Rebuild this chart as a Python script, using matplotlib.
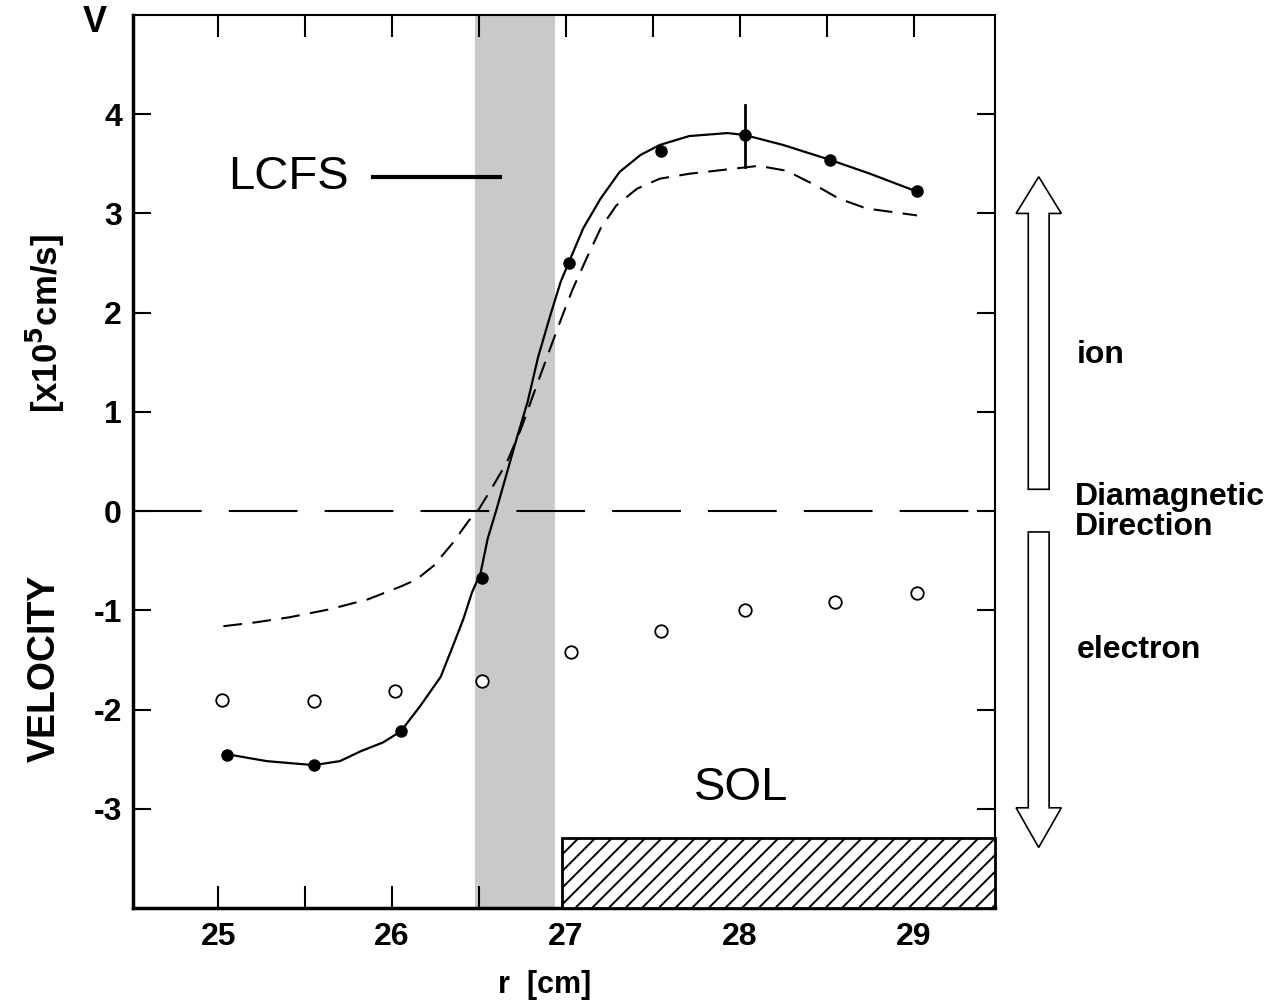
import matplotlib
matplotlib.use('Agg')
import matplotlib.pyplot as plt
from matplotlib.patches import Rectangle, FancyArrow

plt.rcParams['font.family'] = ['Liberation Sans', 'DejaVu Sans']
plt.rcParams['axes.unicode_minus'] = False
plt.rcParams['hatch.linewidth'] = 1.4

# measured points: filled (fit line) and open circles
r_filled = [25.05, 25.55, 26.05, 26.52, 27.02, 27.55, 28.03, 28.52, 29.02]
v_filled = [-2.46, -2.56, -2.22, -0.67, 2.50, 3.63, 3.79, 3.54, 3.23]
r_open = [25.02, 25.55, 26.02, 26.52, 27.03, 27.55, 28.03, 28.55, 29.02]
v_open = [-1.90, -1.91, -1.81, -1.71, -1.42, -1.21, -1.00, -0.92, -0.83]

# error bar on the 28 cm point
err_r = 28.03
err_lo, err_hi = 3.47, 4.09

# solid curve
r_solid = [25.05, 25.28, 25.55, 25.70, 25.82, 25.95, 26.05, 26.16, 26.28, 26.35,
           26.41, 26.46, 26.51, 26.55, 26.60, 26.66, 26.72, 26.78, 26.84, 26.91,
           26.97, 27.02, 27.10, 27.20, 27.31, 27.43, 27.54, 27.71, 27.93, 28.03,
           28.25, 28.52, 28.75, 29.02]
v_solid = [-2.45, -2.52, -2.56, -2.52, -2.42, -2.33, -2.22, -1.97, -1.67, -1.36,
           -1.09, -0.82, -0.62, -0.28, 0.01, 0.38, 0.75, 1.10, 1.55, 1.97,
           2.31, 2.52, 2.85, 3.15, 3.42, 3.59, 3.69, 3.78, 3.81, 3.79,
           3.69, 3.54, 3.40, 3.22]

# dashed curve
r_dash = [25.03, 25.22, 25.41, 25.64, 25.86, 26.05, 26.14, 26.24, 26.35, 26.44,
          26.50, 26.58, 26.66, 26.74, 26.81, 26.91, 26.98, 27.04, 27.12, 27.20,
          27.29, 27.41, 27.54, 27.71, 27.96, 28.11, 28.27, 28.44, 28.57, 28.73,
          29.02]
v_dash = [-1.16, -1.12, -1.07, -0.99, -0.89, -0.76, -0.69, -0.55, -0.32, -0.10,
          0.02, 0.25, 0.49, 0.82, 1.16, 1.64, 1.97, 2.24, 2.55, 2.85,
          3.08, 3.25, 3.35, 3.40, 3.45, 3.48, 3.43, 3.28, 3.15, 3.05,
          2.98]

# LCFS band and SOL box
lcfs_lo, lcfs_hi = 26.48, 26.94
sol_r0, sol_top = 26.98, -3.29

fig = plt.figure(figsize=(12.85, 10), dpi=100)
ax = fig.add_axes([0.1035, 0.092, 0.671, 0.893])
ax.set_xlim(24.51, 29.47)
ax.set_ylim(-4.0, 5.0)

ax.axvspan(lcfs_lo, lcfs_hi, color='#c9c9c9', lw=0, zorder=0)
ax.axhline(0, color='black', lw=1.5, dashes=(33, 13), zorder=2)

ax.plot(r_solid, v_solid, color='black', lw=1.6, zorder=3, solid_joinstyle='round')
ax.plot(r_dash, v_dash, color='black', lw=1.5, dashes=(9, 5), zorder=3)
ax.plot(r_filled, v_filled, 'o', color='black', ms=8, zorder=4)
ax.plot(r_open, v_open, 'o', mfc='white', mec='black', mew=1.3, ms=9, zorder=4)
ax.plot([err_r, err_r], [err_lo, err_hi], color='black', lw=2, zorder=4)

ax.add_patch(Rectangle((sol_r0, -4.0), 29.47 - sol_r0, sol_top + 4.0,
                       facecolor='white', edgecolor='black', lw=2,
                       hatch='//', zorder=5, clip_on=False))

# annotations
ax.text(25.75, 3.37, 'LCFS', fontsize=34, ha='right', va='center')
ax.plot([25.89, 26.62], [3.37, 3.37], color='black', lw=3, zorder=6)
ax.text(28.01, -2.79, 'SOL', fontsize=34, ha='center', va='center')

# ticks
ax.set_xticks([25, 26, 27, 28, 29])
ax.set_xticks([25.5, 26.5, 27.5, 28.5], minor=True)
ax.set_yticks([-3, -2, -1, 0, 1, 2, 3, 4])
ax.tick_params(axis='both', which='both', direction='in', top=True, right=True,
               width=1.5, labelsize=23)
ax.tick_params(axis='x', which='both', length=16, pad=10)
ax.tick_params(axis='y', which='both', length=13, pad=8)
for lab in ax.get_xticklabels() + ax.get_yticklabels():
    lab.set_fontweight('bold')
ax.spines['left'].set_linewidth(2.5)
ax.spines['bottom'].set_linewidth(2.5)
ax.spines['top'].set_linewidth(1.5)
ax.spines['right'].set_linewidth(1.5)

# axis labels
fig.text(95 / 1285, 1 - 22 / 1000, 'V', fontsize=26, fontweight='bold',
         ha='center', va='center')
fig.text(45 / 1285, 1 - 324 / 1000, r'[x10$^{\mathbf{5}}$cm/s]', fontsize=25,
         fontweight='bold', rotation=90, ha='center', va='center')
fig.text(45 / 1285, 1 - 668 / 1000, 'VELOCITY', fontsize=27, fontweight='bold',
         rotation=90, ha='center', va='center')
fig.text(545 / 1285, 1 - 985 / 1000, 'r  [cm]', fontsize=22, fontweight='bold',
         ha='center', va='center')

# diamagnetic direction arrows
ax.add_patch(FancyArrow(29.72, 0.22, 0, 3.15, width=0.12, head_width=0.26,
                        head_length=0.37, length_includes_head=True,
                        facecolor='white', edgecolor='black', lw=1.2, clip_on=False))
ax.add_patch(FancyArrow(29.72, -0.21, 0, -3.18, width=0.12, head_width=0.26,
                        head_length=0.40, length_includes_head=True,
                        facecolor='white', edgecolor='black', lw=1.2, clip_on=False))

fig.text(1077 / 1285, 1 - 355 / 1000, 'ion', fontsize=23, fontweight='bold',
         ha='left', va='center')
fig.text(1075 / 1285, 1 - 512 / 1000, 'Diamagnetic\nDirection', fontsize=23,
         fontweight='bold', ha='left', va='center', linespacing=1.0)
fig.text(1077 / 1285, 1 - 650 / 1000, 'electron', fontsize=23, fontweight='bold',
         ha='left', va='center')

fig.savefig('out.png', dpi=100)
